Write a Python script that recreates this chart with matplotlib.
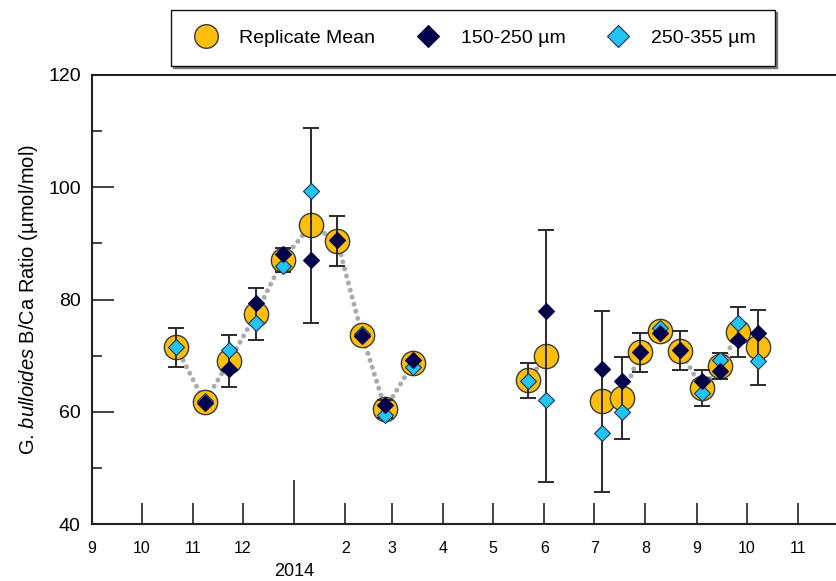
import numpy as np
import matplotlib
matplotlib.use('Agg')
import matplotlib.pyplot as plt
import matplotlib.dates as mdates
from matplotlib.lines import Line2D
from datetime import datetime

plt.rcParams['font.family'] = ['Liberation Sans', 'DejaVu Sans']
plt.rcParams['mathtext.fontset'] = 'custom'
plt.rcParams['mathtext.it'] = 'Liberation Sans:italic'
plt.rcParams['mathtext.rm'] = 'Liberation Sans'

# sample dates (mid-point of each trap interval)
dates = ['2013-10-22', '2013-11-08', '2013-11-23', '2013-12-09', '2013-12-25',
         '2014-01-11', '2014-01-27', '2014-02-11', '2014-02-25', '2014-03-14',
         '2014-05-22', '2014-06-02',
         '2014-07-06', '2014-07-18', '2014-07-29', '2014-08-10', '2014-08-22',
         '2014-09-04', '2014-09-15', '2014-09-26', '2014-10-08']
mean = [71.5, 61.7, 69.1, 77.4, 87.0, 93.2, 90.5, 73.7, 60.5, 68.7,
        65.6, 69.9,
        61.9, 62.5, 70.6, 74.4, 70.9, 64.2, 68.1, 74.2, 71.5]
err = [3.5, np.nan, 4.6, 4.7, 2.15, 17.3, 4.45, np.nan, 1.6, np.nan,
       3.15, 22.4,
       16.1, 7.3, 3.5, np.nan, 3.5, 3.2, 2.3, 4.45, 6.65]
small = [np.nan, 61.5, 67.6, 79.3, 88.1, 87.0, 90.6, 73.5, 61.2, 69.2,
         np.nan, 78.0,
         67.6, 65.4, 70.7, 74.1, 71.0, 65.4, 67.3, 72.7, 74.1]
large = [71.6, 62.0, 71.0, 75.9, 86.0, 99.3, np.nan, 73.9, 59.4, 67.9,
         65.5, 62.1,
         56.3, 60.0, np.nan, 74.9, np.nan, 63.3, 69.2, 75.8, 69.0]
# groups of consecutive samples joined by the dotted line
groups = [(0, 10), (10, 12), (12, 21)]

x = np.array([mdates.date2num(datetime.strptime(d, '%Y-%m-%d')) for d in dates])
mean = np.array(mean)

fig = plt.figure(figsize=(8.36, 5.81), dpi=100)
ax = fig.add_axes([0.110, 0.098, 0.89, 0.773])

for a, b in groups:
    ax.plot(x[a:b], mean[a:b], color='#ababab', lw=3.6,
            linestyle=(0, (0.01, 1.45)), dash_capstyle='round', zorder=1)

ax.plot(x, mean, 'o', ms=17.5, mfc='#fdbe0c', mec='#3a3a3a', mew=1.0, zorder=2)
ax.errorbar(x, mean, yerr=err, fmt='none', ecolor='#2a2a2a', elinewidth=1.4,
            capsize=5.5, capthick=1.4, zorder=3)
ax.plot(x, large, 'D', ms=8, mfc='#22c4f4', mec='#1a3550', mew=0.8, zorder=4)
ax.plot(x, small, 'D', ms=8, mfc='#02024a', mec='#02024a', mew=0.8, zorder=5)

ax.set_xlim(mdates.date2num(datetime(2013, 9, 1)), mdates.date2num(datetime(2014, 11, 24)))
ax.set_ylim(40, 120)

months = [datetime(2013, 9, 1), datetime(2013, 10, 1), datetime(2013, 11, 1), datetime(2013, 12, 1),
          datetime(2014, 1, 1), datetime(2014, 2, 1), datetime(2014, 3, 1), datetime(2014, 4, 1),
          datetime(2014, 5, 1), datetime(2014, 6, 1), datetime(2014, 7, 1), datetime(2014, 8, 1),
          datetime(2014, 9, 1), datetime(2014, 10, 1), datetime(2014, 11, 1)]
month_labels = ['9', '10', '11', '12', '', '2', '3', '4', '5', '6', '7', '8', '9', '10', '11']
ax.set_xticks([mdates.date2num(m) for m in months])
ax.set_xticklabels(month_labels, fontsize=11.5)
ax.tick_params(axis='x', direction='in', length=15, width=1.2, pad=12, color='#222222')
jan = ax.xaxis.get_major_ticks()[4]
jan.tick1line.set_markersize(32)
ax.text(mdates.date2num(datetime(2014, 1, 1)), -0.105, '2014', transform=ax.get_xaxis_transform(),
        ha='center', va='center', fontsize=13)

ax.set_yticks([40, 60, 80, 100, 120])
ax.set_yticks([50, 70, 90, 110], minor=True)
ax.tick_params(axis='y', which='major', direction='in', length=16, width=1.2, pad=8,
               labelsize=14, color='#222222')
ax.tick_params(axis='y', which='minor', direction='in', length=7, width=1.2, color='#222222')

for s in ['left', 'bottom', 'top']:
    ax.spines[s].set_linewidth(1.5)
    ax.spines[s].set_color('#222222')
ax.spines['right'].set_visible(False)

ax.set_ylabel('G. $\\it{bulloides}$ B/Ca Ratio (µmol/mol)', fontsize=14.5, labelpad=6)

handles = [
    Line2D([], [], ls='none', marker='o', ms=17, mfc='#fdbe0c', mec='#3a3a3a', mew=1.0),
    Line2D([], [], ls='none', marker='D', ms=11, mfc='#02024a', mec='#02024a', mew=0.8),
    Line2D([], [], ls='none', marker='D', ms=11, mfc='#22c4f4', mec='#1a3550', mew=0.8),
]
labels = ['Replicate Mean', '150-250 µm', '250-355 µm']
leg = fig.legend(handles, labels, loc='center',
                 bbox_to_anchor=(0.566, 0.935), ncol=3, fontsize=14, frameon=True,
                 fancybox=False, edgecolor='#111111', framealpha=1,
                 handletextpad=0.9, columnspacing=1.9, borderpad=1.0, handlelength=1.6,
                 borderaxespad=0.2,
                 shadow={'color': '#777777', 'alpha': 1, 'ox': 1.5, 'oy': -1.5})
leg.get_frame().set_linewidth(1.0)

fig.savefig('out.png', dpi=100)
